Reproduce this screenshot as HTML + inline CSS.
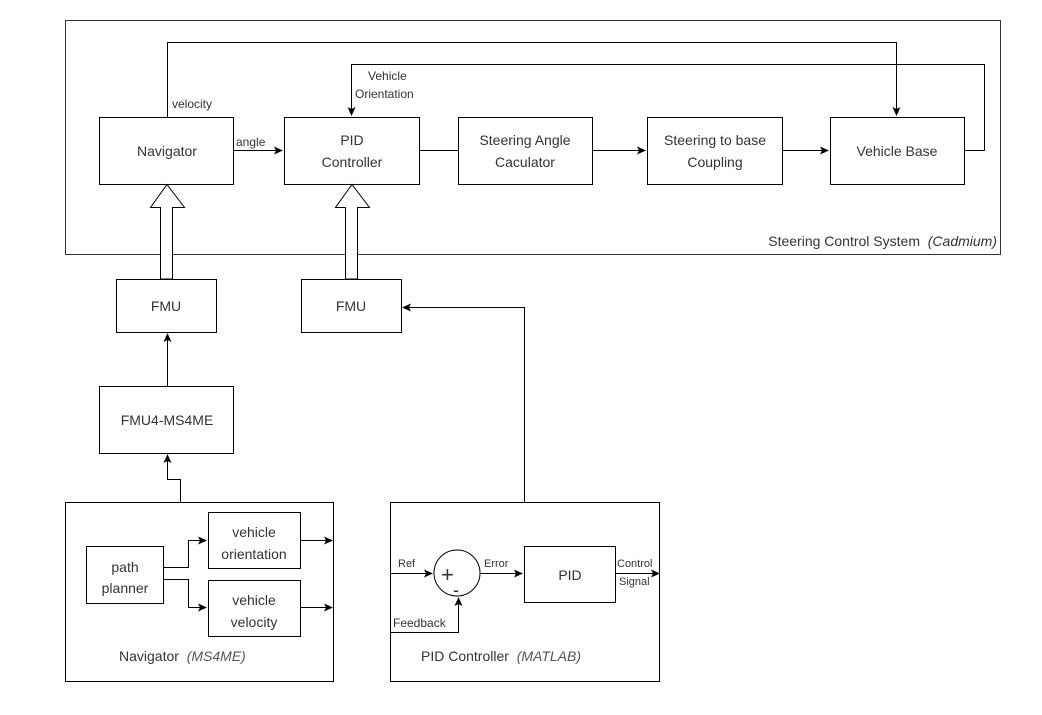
<!DOCTYPE html>
<html><head><meta charset="utf-8"><style>
html,body{margin:0;padding:0;background:#fff;}
svg{display:block;}
text{font-family:"Liberation Sans",Arial,sans-serif;fill:#333;}
</style></head><body>
<svg width="1042" height="715" viewBox="0 0 1042 715" xmlns="http://www.w3.org/2000/svg">
<defs>
<marker id="a" markerWidth="10" markerHeight="10" refX="8" refY="5" orient="auto" markerUnits="userSpaceOnUse">
<path d="M0,1 L9,5 L0,9 L2,5 Z" fill="#000"/>
</marker>
</defs>
<g fill="none" stroke="#000" stroke-width="1">
<rect x="65.5" y="20.5" width="935" height="234" stroke="#333"/>
<rect x="99.5" y="117.5" width="134" height="67"/>
<rect x="284.5" y="117.5" width="135" height="67"/>
<rect x="458.5" y="117.5" width="134" height="67"/>
<rect x="647.5" y="117.5" width="135" height="67"/>
<rect x="830.5" y="117.5" width="134" height="67"/>
<path d="M167.5,117 V42.5 H896.5 V115" marker-end="url(#a)"/>
<path d="M964,150.5 H984.5 V64.5 H351.5 V115" marker-end="url(#a)"/>
<path d="M234,150.5 H282" marker-end="url(#a)"/>
<path d="M419,150.5 H458"/>
<path d="M592,150.5 H645" marker-end="url(#a)"/>
<path d="M782,150.5 H828" marker-end="url(#a)"/>
<path d="M160.5,279 V207.5 H150.5 L167,184.5 L184.5,207.5 H172.5 V279 Z" fill="#fff"/>
<path d="M345.5,279 V207.5 H335.5 L352,184.5 L369.5,207.5 H357.5 V279 Z" fill="#fff"/>
<rect x="116.5" y="279.5" width="100" height="53"/>
<rect x="301.5" y="279.5" width="100" height="53"/>
<rect x="99.5" y="386.5" width="134" height="67"/>
<path d="M167.5,386 V334" marker-end="url(#a)"/>
<path d="M180.5,502 V479.5 H167.5 V455" marker-end="url(#a)"/>
<rect x="65.5" y="502.5" width="268" height="179"/>
<rect x="86.5" y="546.5" width="77" height="57"/>
<rect x="208.5" y="512.5" width="92" height="56"/>
<rect x="208.5" y="580.5" width="92" height="56"/>
<path d="M163,567.5 H188.5 V540.5 H206" marker-end="url(#a)"/>
<path d="M163,579.5 H188.5 V607.5 H206" marker-end="url(#a)"/>
<path d="M300,540.5 H332" marker-end="url(#a)"/>
<path d="M300,607.5 H332" marker-end="url(#a)"/>
<rect x="390.5" y="502.5" width="269" height="179"/>
<path d="M524.5,502 V307.5 H403" marker-end="url(#a)"/>
<circle cx="457" cy="573" r="23"/>
<rect x="524.5" y="546.5" width="91" height="56"/>
<path d="M390,573.5 H432" marker-end="url(#a)"/>
<path d="M390,632.5 H458.5 V598" marker-end="url(#a)"/>
<path d="M480,573.5 H522" marker-end="url(#a)"/>
<path d="M616,573.5 H659" marker-end="url(#a)"/>
</g>
<g font-size="14" text-anchor="middle">
<text x="167" y="156">Navigator</text>
<text x="352" y="145">PID</text>
<text x="352" y="167">Controller</text>
<text x="525" y="145">Steering Angle</text>
<text x="525" y="167">Caculator</text>
<text x="715" y="145">Steering to base</text>
<text x="715" y="167">Coupling</text>
<text x="897" y="156">Vehicle Base</text>
<text x="166" y="311">FMU</text>
<text x="351" y="311">FMU</text>
<text x="167" y="425">FMU4-MS4ME</text>
<text x="125" y="572">path</text>
<text x="125" y="593">planner</text>
<text x="254" y="537">vehicle</text>
<text x="254" y="559">orientation</text>
<text x="254" y="605">vehicle</text>
<text x="254" y="627">velocity</text>
<text x="570" y="580">PID</text>
</g>
<g font-size="12">
<text x="172" y="108">velocity</text>
<text x="236" y="146">angle</text>
<text x="368" y="80">Vehicle</text>
<text x="355" y="98">Orientation</text>
</g>
<text x="997" y="246" font-size="14" text-anchor="end">Steering Control System <tspan font-style="italic">&#160;(Cadmium)</tspan></text>
<text x="119" y="661" font-size="14">Navigator <tspan font-style="italic" fill="#555">&#160;(MS4ME)</tspan></text>
<text x="421" y="661" font-size="14">PID Controller <tspan font-style="italic" fill="#555">&#160;(MATLAB)</tspan></text>
<g font-size="11">
<text x="398" y="567">Ref</text>
<text x="484" y="567">Error</text>
<text x="393" y="627" font-size="12">Feedback</text>
<text x="617" y="567">Control</text>
<text x="619" y="585">Signal</text>
</g>
<text x="441" y="582" font-size="22">+</text>
<text x="453" y="596" font-size="18">-</text>
</svg>
</body></html>
